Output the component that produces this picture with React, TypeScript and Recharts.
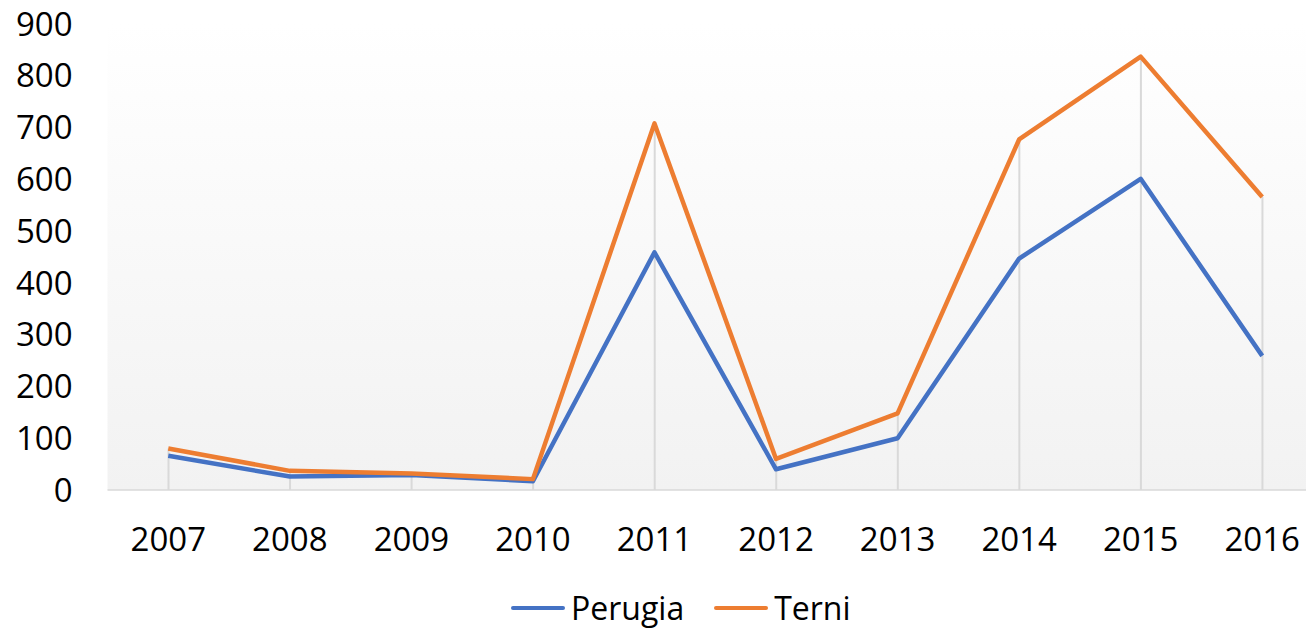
import { ComposedChart, Line, Bar, XAxis, YAxis, CartesianGrid } from 'recharts';

const years = ['2007', '2008', '2009', '2010', '2011', '2012', '2013', '2014', '2015', '2016'];
const perugia = [66, 26, 29, 17, 459, 40, 100, 447, 601, 259];
const terni = [80, 37, 32, 21, 708, 60, 148, 677, 837, 566];
const yTicks = [0, 100, 200, 300, 400, 500, 600, 700, 800, 900];

const series = [
  { key: 'perugia', name: 'Perugia', color: '#4472C4' },
  { key: 'terni', name: 'Terni', color: '#ED7D31' },
];

const data = years.map((year, i) => ({
  year,
  perugia: perugia[i],
  terni: terni[i],
  drop: Math.max(perugia[i], terni[i]),
}));

const font = '"Open Sans", sans-serif';

export default function App() {
  return (
    <div style={{ position: 'fixed', left: 0, top: 0, width: 1306, height: 628, overflow: 'hidden', background: '#fff' }}>
      <ComposedChart
        width={1323}
        height={628}
        data={data}
        margin={{ top: 24, right: 0, left: 0, bottom: 78 }}
      >
        <defs>
          <linearGradient id="plotBg" x1="0" y1="0" x2="0" y2="1">
            <stop offset="0%" stopColor="#ffffff" />
            <stop offset="100%" stopColor="#f2f2f2" />
          </linearGradient>
        </defs>
        <CartesianGrid horizontal={false} vertical={false} fill="url(#plotBg)" />
        <XAxis
          dataKey="year"
          height={60}
          tickLine={false}
          tickSize={0}
          tickMargin={38}
          axisLine={{ stroke: '#d9d9d9', strokeWidth: 1.5 }}
          tick={{ fontSize: 33, fill: '#000', fontFamily: font }}
          interval={0}
        />
        <YAxis
          width={107.5}
          domain={[0, 900]}
          ticks={yTicks}
          axisLine={false}
          tickLine={false}
          tickSize={0}
          tickMargin={35}
          tick={{ fontSize: 33, fill: '#000', fontFamily: font }}
        />
        <Bar dataKey="drop" barSize={2} fill="#d9d9d9" isAnimationActive={false} />
        {series.map((s) => (
          <Line
            key={s.key}
            type="linear"
            dataKey={s.key}
            name={s.name}
            stroke={s.color}
            strokeWidth={4.5}
            strokeLinejoin="round"
            dot={false}
            activeDot={false}
            isAnimationActive={false}
          />
        ))}
      </ComposedChart>
      <div
        style={{
          position: 'absolute',
          top: 588,
          left: 511,
          display: 'flex',
          alignItems: 'center',
          fontFamily: font,
          fontSize: 32,
          lineHeight: '40px',
          color: '#000',
        }}
      >
        {series.map((s, i) => (
          <div key={s.key} style={{ display: 'flex', alignItems: 'center', marginLeft: i === 0 ? 0 : 30 }}>
            <div style={{ width: 54, height: 4.5, borderRadius: 2, background: s.color, marginRight: 6 }} />
            <span>{s.name}</span>
          </div>
        ))}
      </div>
    </div>
  );
}
